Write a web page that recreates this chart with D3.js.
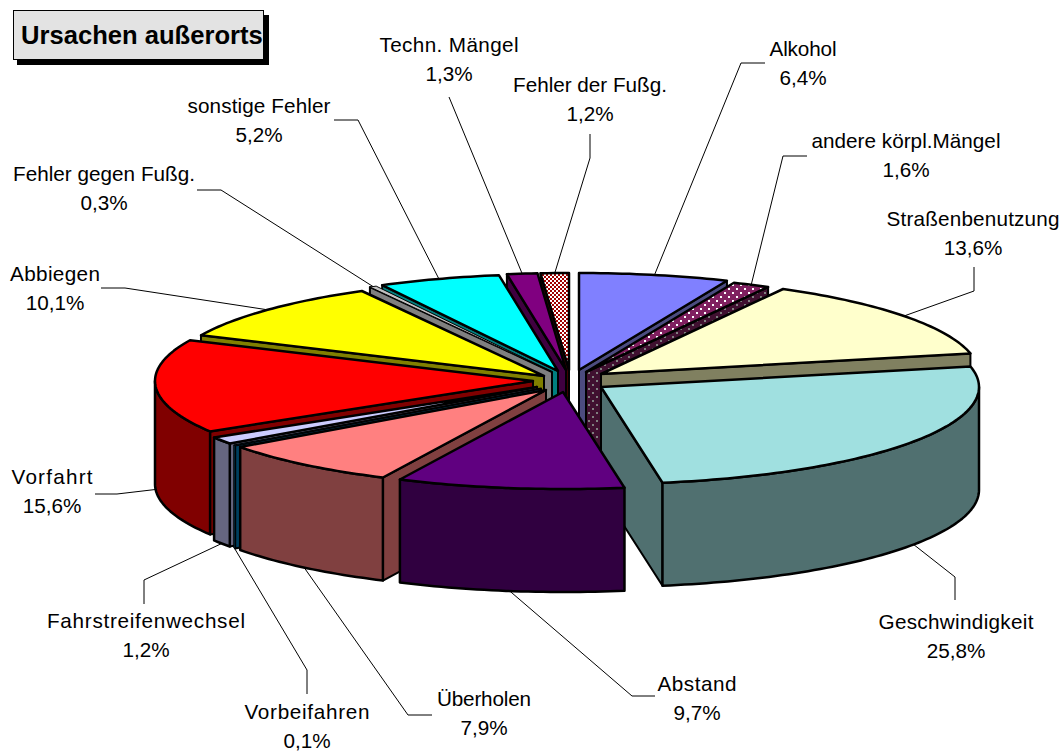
<!DOCTYPE html>
<html>
<head>
<meta charset="utf-8">
<script src="https://cdnjs.cloudflare.com/ajax/libs/d3/7.8.5/d3.min.js"></script>
<style>
  body { margin: 0; background: #fff; }
  text { font-family: "Liberation Sans", Arial, sans-serif; }
</style>
</head>
<body>
<div id="chart"></div>
<script>
var width = 1064;
var height = 751;

// data, in pie order (clockwise from 12 o'clock)
var categories = ["Alkohol", "andere körpl.Mängel", "Straßenbenutzung", "Geschwindigkeit", "Abstand",
    "Überholen", "Vorbeifahren", "Fahrstreifenwechsel", "Vorfahrt", "Abbiegen",
    "Fehler gegen Fußg.", "sonstige Fehler", "Techn. Mängel", "Fehler der Fußg."];
var values = [6.4, 1.6, 13.6, 25.8, 9.7, 7.9, 0.1, 1.2, 15.6, 10.1, 0.3, 5.2, 1.3, 1.2];

// layout: exploded apex of every slice
var apexX = [579, 586, 601, 601, 563, 546, 541, 537, 533, 544, 552, 558, 566, 569];
var apexY = [370, 372, 374, 387, 392, 390, 388.5, 387, 381, 376, 372, 371, 370, 370];

// layout: label centre, first text baseline, text width, leader elbow and leader end
var labelX = [803, 906, 973, 956, 697, 484, 307, 146, 52, 55, 104, 259, 449, 590];
var labelY = [56, 148, 226, 629, 691, 706, 719, 628, 484, 281, 181, 113, 52, 92];
var labelW = [67, 189, 173, 155, 79, 94, 125, 198, 81, 90, 182, 143, 139, 154];
var elbowX = [741, 783, 974, 955, 632, 408, 307, 144, 117, 125, 221, 358, 449, 590];
var elbowY = [63, 156, 291, 577, 696, 715, 670, 580, 494, 288, 190, 120, 97, 158];
var endX = [765, 807, 974, 955, 655, 432, 307, 144, 95, 101, 197, 334, 449, 590];
var endY = [63, 156, 267, 600, 696, 715, 694, 604, 494, 288, 190, 120, 97, 134];

// colours: top face and shaded side
var topColors = ["#8080FF", "url(#dotsTop)", "#FFFFCC", "#A0E0E0", "#600080", "#FF8080", "#0080C0",
    "#CCCCFF", "#FF0000", "#FFFF00", "#C0C0C0", "#00FFFF", "#800080", "url(#checkTop)"];
var sideColors = ["#4C4C80", "url(#dotsSide)", "#808060", "#507070", "#300040", "#804040", "#004060",
    "#666680", "#800000", "#808000", "#808080", "#008080", "#400040", "#400000"];

// back slices first, front slices last
var drawOrder = [13, 12, 11, 10, 9, 8, 7, 6, 5, 0, 1, 2, 3, 4];

var rx = 378;
var ry = 97;
var depth = 103;

var svg = d3.select("#chart").append("svg")
    .attr("width", width)
    .attr("height", height)
    .style("display", "block");

var defs = svg.append("defs");

function dotPattern(id, bg, dot) {
    var p = defs.append("pattern")
        .attr("id", id)
        .attr("patternUnits", "userSpaceOnUse")
        .attr("width", 8)
        .attr("height", 8);
    p.append("rect").attr("width", 8).attr("height", 8).attr("fill", bg);
    p.append("rect").attr("x", 0).attr("y", 0).attr("width", 2).attr("height", 2).attr("fill", dot);
    p.append("rect").attr("x", 4).attr("y", 4).attr("width", 2).attr("height", 2).attr("fill", dot);
}
dotPattern("dotsTop", "#802060", "#FFFFFF");
dotPattern("dotsSide", "#401030", "#808080");

var check = defs.append("pattern")
    .attr("id", "checkTop")
    .attr("patternUnits", "userSpaceOnUse")
    .attr("width", 4)
    .attr("height", 4);
check.append("rect").attr("width", 4).attr("height", 4).attr("fill", "#FFFFFF");
check.append("rect").attr("x", 0).attr("y", 0).attr("width", 2).attr("height", 2).attr("fill", "#A00000");
check.append("rect").attr("x", 2).attr("y", 2).attr("width", 2).attr("height", 2).attr("fill", "#A00000");

var pie = d3.pie().sort(null).startAngle(0).endAngle(2 * Math.PI);
var arcs = pie(values);

function px(i, a) { return apexX[i] + rx * Math.sin(a); }
function py(i, a) { return apexY[i] - ry * Math.cos(a); }

function arcPoints(i, a0, a1) {
    var n = Math.max(2, Math.ceil((a1 - a0) / 0.02));
    return d3.range(n + 1).map(function(k) {
        var a = a0 + (a1 - a0) * k / n;
        return [px(i, a), py(i, a)];
    });
}

var line = d3.line();
var lines = svg.append("g");
var slices = svg.append("g");

// very thin slices would turn black with the normal outline
function outline(i) { return values[i] < 0.5 ? 1 : 2.5; }

// one cut face of a slice, running from apex to rim and extruded downwards
function cutFace(g, i, a) {
    g.append("path")
        .attr("d", line([
            [apexX[i], apexY[i]],
            [px(i, a), py(i, a)],
            [px(i, a), py(i, a) + depth],
            [apexX[i], apexY[i] + depth]
        ]) + "Z")
        .attr("fill", sideColors[i])
        .attr("stroke", "#000")
        .attr("stroke-width", 2)
        .attr("stroke-linejoin", "round");
}

drawOrder.forEach(function(i) {
    var d = arcs[i];
    var g = slices.append("g").attr("class", "slice");

    if (Math.sin(d.startAngle) < -1e-6) cutFace(g, i, d.startAngle);
    if (Math.sin(d.endAngle) > 1e-6) cutFace(g, i, d.endAngle);

    // outer wall, only the part facing the viewer
    var w0 = Math.max(d.startAngle, Math.PI / 2);
    var w1 = Math.min(d.endAngle, 3 * Math.PI / 2);
    if (w1 > w0) {
        var upper = arcPoints(i, w0, w1);
        var lower = upper.map(function(p) { return [p[0], p[1] + depth]; }).reverse();
        g.append("path")
            .attr("d", line(upper.concat(lower)) + "Z")
            .attr("fill", sideColors[i])
            .attr("stroke", "#000")
            .attr("stroke-width", outline(i))
            .attr("stroke-linejoin", "round");
    }

    // top face
    g.append("path")
        .attr("d", line([[apexX[i], apexY[i]]].concat(arcPoints(i, d.startAngle, d.endAngle))) + "Z")
        .attr("fill", topColors[i])
        .attr("stroke", "#000")
        .attr("stroke-width", outline(i))
        .attr("stroke-linejoin", "round");
});

// leader lines start on the rim at the middle of the slice
arcs.forEach(function(d, i) {
    var mid = (d.startAngle + d.endAngle) / 2;
    var front = Math.cos(mid) < 0;
    var sx = px(i, mid);
    var sy = py(i, mid) + (front ? depth : 0);
    lines.append("path")
        .attr("d", line([[sx, sy], [elbowX[i], elbowY[i]], [endX[i], endY[i]]]))
        .attr("fill", "none")
        .attr("stroke", "#000")
        .attr("stroke-width", 1);
});

var labels = svg.append("g")
    .attr("font-size", 20.7)
    .attr("text-anchor", "middle")
    .attr("fill", "#000");

categories.forEach(function(c, i) {
    labels.append("text")
        .attr("x", labelX[i])
        .attr("y", labelY[i])
        .attr("textLength", labelW[i])
        .attr("lengthAdjust", "spacing")
        .text(c);
    labels.append("text")
        .attr("x", labelX[i])
        .attr("y", labelY[i] + 29)
        .text(values[i].toFixed(1).replace(".", ",") + "%");
});

// title box with hard shadow
svg.append("rect")
    .attr("x", 17).attr("y", 15)
    .attr("width", 252).attr("height", 50)
    .attr("fill", "#000");
svg.append("rect")
    .attr("x", 13.5).attr("y", 10.5)
    .attr("width", 250).attr("height", 49)
    .attr("fill", "#E3E3E3")
    .attr("stroke", "#000")
    .attr("stroke-width", 1);
svg.append("text")
    .attr("x", 21)
    .attr("y", 44)
    .attr("font-size", 25.6)
    .attr("font-weight", "bold")
    .text("Ursachen außerorts");
</script>
</body>
</html>
